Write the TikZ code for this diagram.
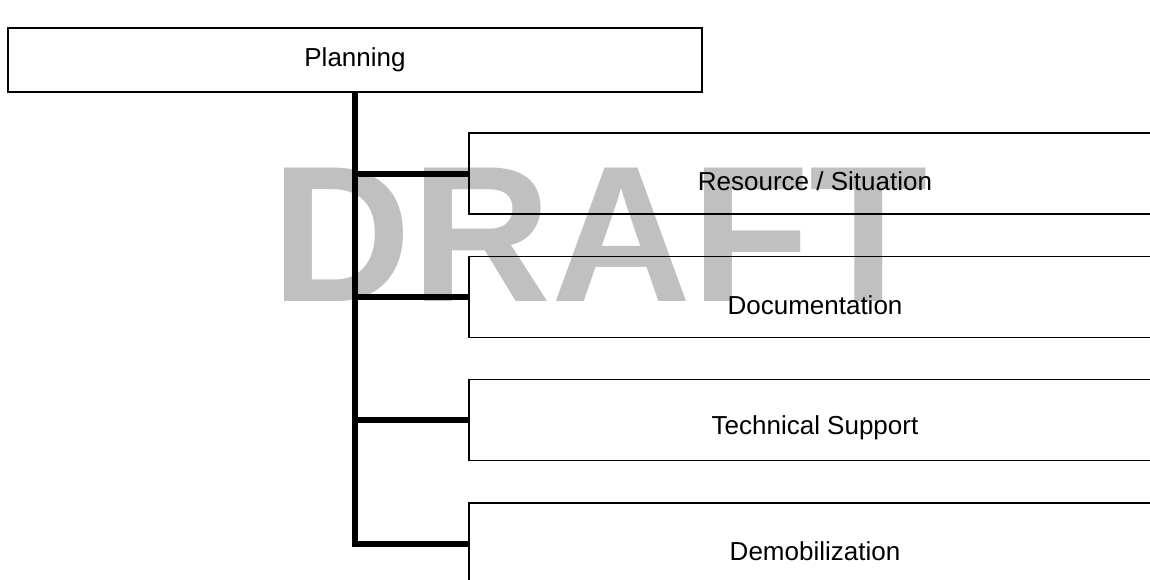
\documentclass[tikz,border=0pt]{standalone}
\usepackage{fontspec}
\setmainfont{Liberation Sans}
\begin{document}
\begin{tikzpicture}[x=1pt,y=-1pt,
  box/.style={draw=black,line width=1.5pt,rectangle,inner sep=0pt},
  childbox/.style={box,minimum width=692pt,minimum height=81pt},
  lbl/.style={font=\fontsize{26}{30}\selectfont,inner sep=0pt},
  conn/.style={draw=black,line width=6pt,line join=miter},
  wmtext/.style={font=\bfseries\fontsize{194}{200}\selectfont,text=wmgray,inner sep=0pt,anchor=base west}]
\definecolor{wmgray}{HTML}{C0C0C0}
\useasboundingbox (0,0) rectangle (1150,579);
\clip (0,0) rectangle (1150,579);
% watermark behind everything
\node[wmtext] (wm) at (271,301) {DRAFT};
% top box
\node[box,minimum width=694pt,minimum height=64pt] (plan) at (355,60) {};
\node[lbl] (planlbl) at (plan.center) {Planning};
% child boxes
\node[childbox] (b1) at (815,173.5) {};
\node[childbox] (b2) at (815,297) {};
\node[childbox] (b3) at (815,420) {};
\node[childbox] (b4) at (815,543.5) {};
\node[lbl] (l1) at ([yshift=-8pt]b1.center) {Resource / Situation};
\node[lbl] (l2) at ([yshift=-8pt]b2.center) {Documentation};
\node[lbl] (l3) at ([yshift=-8pt]b3.center) {Technical Support};
\node[lbl] (l4) at ([yshift=-8pt]b4.center) {Demobilization};
% connectors
\draw[conn] (plan.south) -- (plan.south |- b4.west) -- (b4.west);
\draw[conn] (plan.south |- b1.west) -- (b1.west);
\draw[conn] (plan.south |- b2.west) -- (b2.west);
\draw[conn] (plan.south |- b3.west) -- (b3.west);
\end{tikzpicture}
\end{document}
